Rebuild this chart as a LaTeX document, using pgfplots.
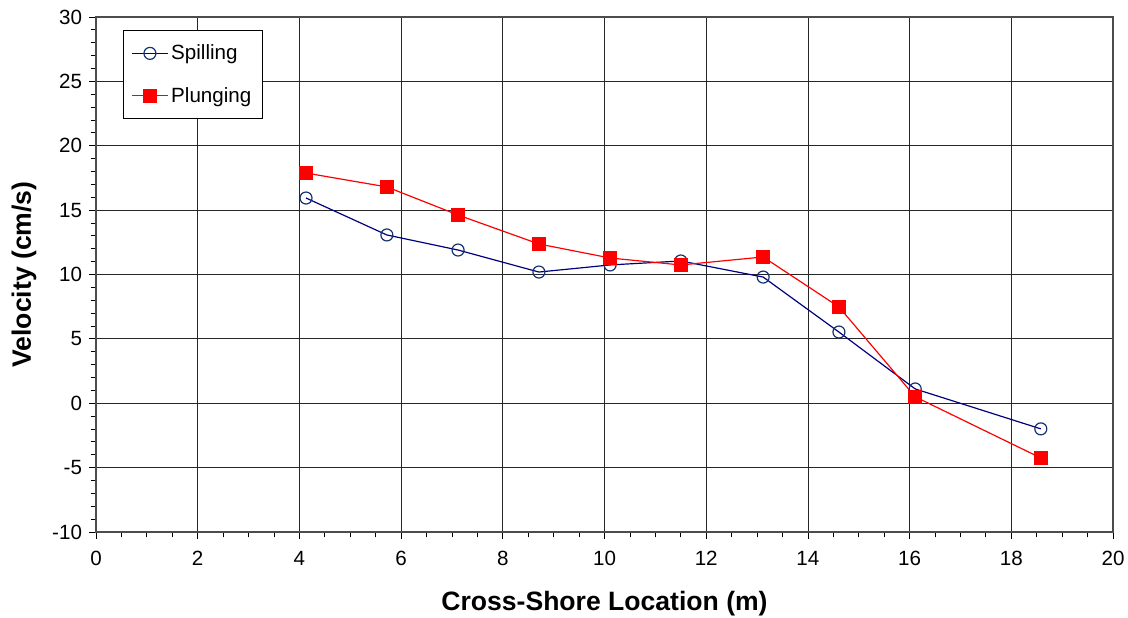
\documentclass[border=0pt]{standalone}
\usepackage{pgfplots}
\pgfplotsset{compat=1.18}
\usepackage{fontspec}
\setmainfont{Liberation Sans}
\definecolor{spill}{RGB}{0,0,128}
\definecolor{spillmark}{RGB}{20,50,110}
\begin{document}
\begin{tikzpicture}[x=1bp,y=1bp]
\begin{axis}[
  at={(0,0)}, anchor=south west,
  scale only axis,
  width=762.75bp, height=386.25bp,
  xmin=0, xmax=20, ymin=-10, ymax=30,
  xtick={0,2,...,20}, ytick={-10,-5,...,30},
  minor x tick num=3, minor y tick num=4,
  xtick pos=bottom, ytick pos=left,
  grid=major,
  major grid style={black!85, line width=0.6pt},
  axis line style={black!70, line width=1pt},
  tick style={black, line width=0.6pt},
  major tick length=5bp, minor tick length=4bp,
  xtick align=outside, ytick align=outside,
  tick label style={font=\fontsize{15.5}{17}\selectfont},
  xticklabel style={yshift=-6bp},
  yticklabel style={xshift=-2bp},
  /pgf/number format/assume math mode=true,
  xlabel={\textbf{Cross-Shore Location (m)}},
  ylabel={\textbf{Velocity (cm/s)}},
  label style={font=\fontsize{20}{22}\selectfont},
  xlabel style={yshift=-12bp},
  ylabel style={yshift=5bp},
  legend style={at={(0.0265,0.975)}, anchor=north west, draw=black, line width=0.6pt,
    font=\fontsize{15.5}{17}\selectfont, inner xsep=6bp, inner ysep=9bp, row sep=15bp},
  legend cell align=left,
  legend image code/.code={\draw[mark repeat=2,mark phase=2] plot coordinates {(0bp,0bp) (13.5bp,0bp) (27bp,0bp)};},
]
\addplot[color=spill, line width=0.9pt, mark=o, mark size=4.5bp, mark options={draw=spillmark, fill=white, line width=0.9pt}]
coordinates {(4.13,15.94) (5.72,13.07) (7.12,11.9) (8.71,10.19) (10.11,10.74) (11.5,11.05) (13.12,9.8) (14.61,5.53) (16.11,1.11) (18.58,-1.99)};
\addlegendentry{Spilling}
\addplot[color=red, line width=0.9pt, mark=square*, mark size=4.8bp, mark options={fill=red, draw=red}]
coordinates {(4.13,17.88) (5.72,16.8) (7.12,14.62) (8.71,12.37) (10.11,11.28) (11.5,10.74) (13.12,11.36) (14.61,7.48) (16.11,0.5) (18.58,-4.25)};
\addlegendentry{Plunging}
\end{axis}
\pgfresetboundingbox
\useasboundingbox (-72,-64.5) rectangle (774,399);
\end{tikzpicture}
\end{document}
